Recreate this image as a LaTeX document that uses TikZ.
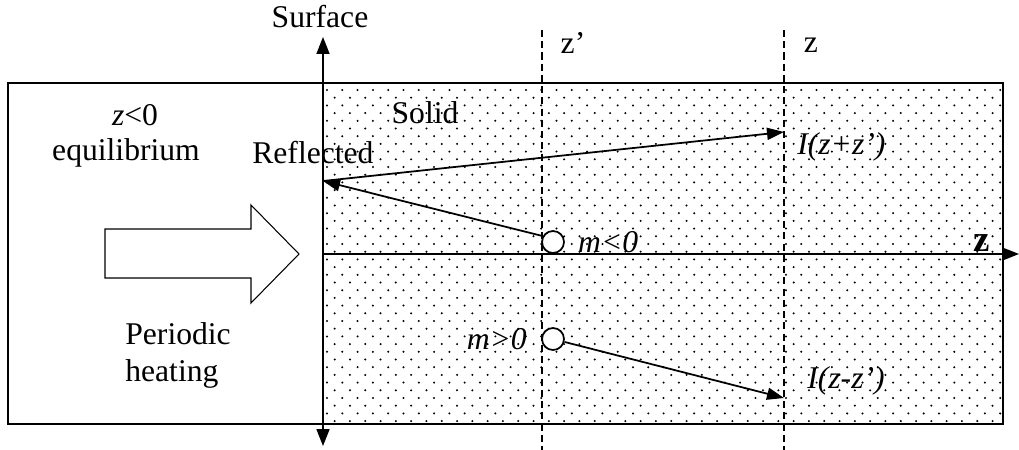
\documentclass[tikz,border=0pt]{standalone}
\usepackage{fontspec}
\setmainfont{Liberation Serif}
\usetikzlibrary{arrows.meta,positioning}

\begin{document}
\begin{tikzpicture}[x=0.02cm, y=-0.02cm,
  txt/.style={font=\fontsize{18}{21}\selectfont, inner sep=0pt},
  ray/.style={line width=1pt, -{Triangle[length=3.4mm, width=2.4mm]}},
  axis/.style={line width=1pt, -{Triangle[length=3.4mm, width=2.6mm]}},
  cut/.style={line width=1.1pt, dash pattern=on 4pt off 2.4pt},
  part/.style={circle, draw, line width=1pt, fill=white, minimum size=0.44cm, inner sep=0pt}]

\useasboundingbox (0,0) rectangle (1019,450);

% the dotted solid
\begin{scope}
\clip (323,83) rectangle (1003,424);
\foreach \r in {0,...,44}
  \foreach \c in {0,...,45}
    \fill ({327+mod(\r,2)*7.65+\c*15.3},{90+\r*7.7}) circle[radius=0.65pt];
\end{scope}
\draw[line width=1.2pt] (8,83) rectangle (1003,424);

% heating arrow
\draw[line width=0.6pt, fill=white] (105,229) -- (251,229) -- (251,205) -- (299,254)
  -- (251,303) -- (251,278) -- (105,278) -- cycle;

% axes and cuts
\coordinate (stop) at (323,37);
\coordinate (sbot) at (323,446);
\coordinate (zo) at (323,254);
\coordinate (zend) at (1019,254);
\draw[line width=1pt, {Triangle[length=3.4mm, width=2.6mm]}-{Triangle[length=3.4mm, width=2.6mm]}] (stop) -- (sbot);
\draw[axis] (zo) -- (zend);
\coordinate (cpa) at (542,30);
\coordinate (cpb) at (542,450);
\coordinate (cza) at (784,30);
\coordinate (czb) at (784,450);
\draw[cut] (cpa) -- (cpb);
\draw[cut] (cza) -- (czb);

% sources and images
\node[part] (mneg) at (553,242) {};
\node[part] (mpos) at (553,339) {};
\coordinate (refl) at (323,181);
\coordinate (imgp) at (784,132);
\coordinate (imgm) at (784,398);
\draw[ray] (mneg.150) -- (refl);
\draw[ray] (refl) -- (imgp);
\draw[ray] (mpos) -- (imgm);

% labels
\node[txt] (surf) at (320,17) {Surface};
\node[txt] (lzp) at (573,43) {z’};
\node[txt] (lz) at (811,45) {z};
\node[txt] (laxis) at (982,243) {\fontsize{21}{24}\selectfont\textbf{z}};
\node[txt] (zneg) at (135,115) {\textit{z}<0};
\node[txt] (equi) at (126,153) {equilibrium};
\node[txt, anchor=west] (refltxt) at (252,153) {Reflected};
\node[txt] (solid) at (425,113) {Solid};
\node[txt, align=left, anchor=west] (heat) at (125,355) {Periodic\\heating};
\node[txt, right=0.26cm of mneg] (lneg) {\textit{m<0}};
\node[txt, left=0.28cm of mpos] (lpos) {\textit{m>0}};
\node[txt, anchor=west] (lip) at (797,147) {\textit{I(z+z’)}};
\node[txt, anchor=west] (lim) at (807,381) {\textit{I(z-z’)}};
\end{tikzpicture}
\end{document}
